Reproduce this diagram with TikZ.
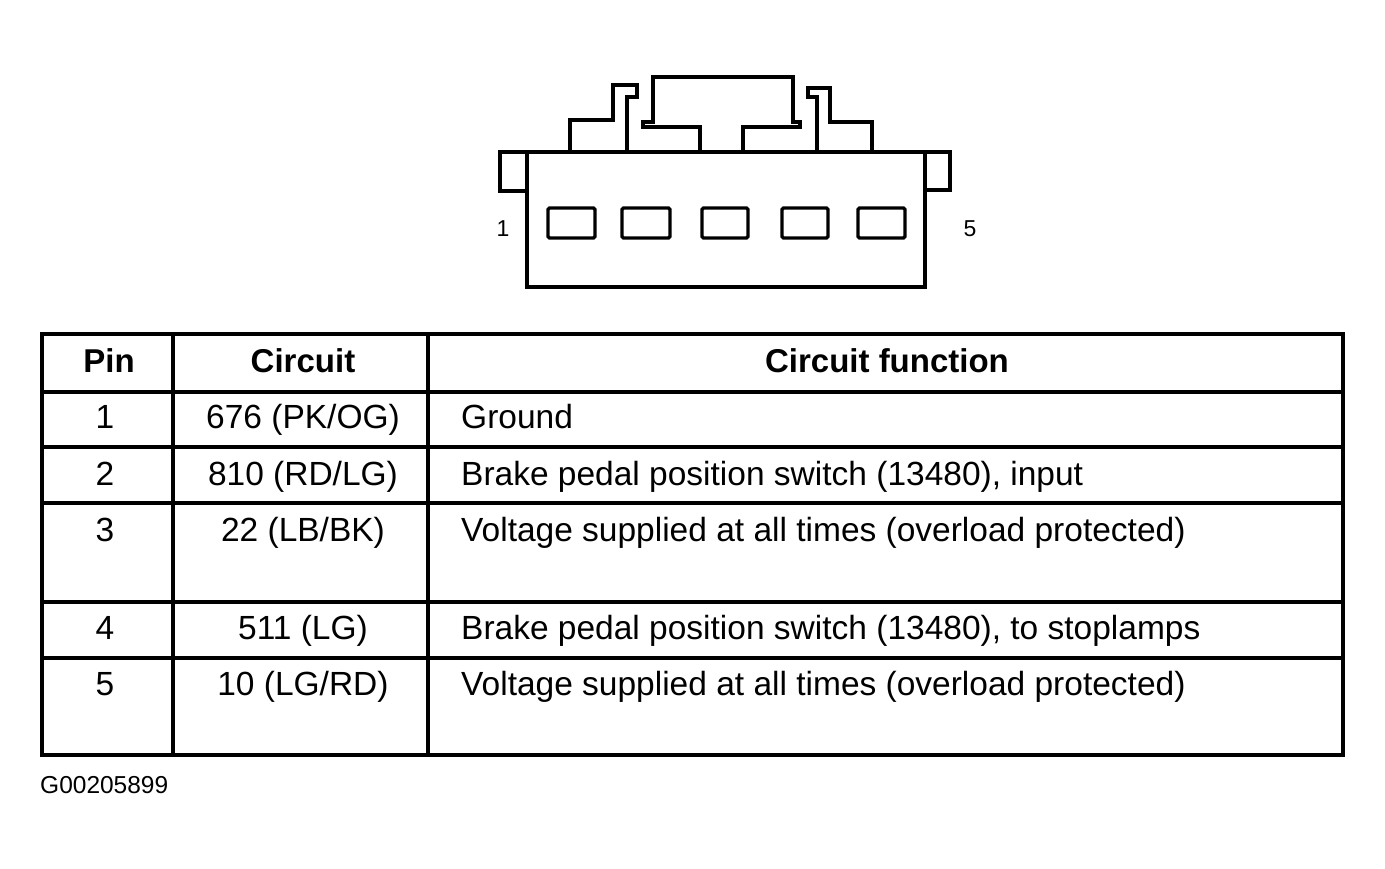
\documentclass[tikz,border=0pt]{standalone}
\usepackage{fontspec}
\setmainfont{Liberation Sans}
\begin{document}
\begin{tikzpicture}[x=1pt,y=-1pt,
  conn/.style={line width=3.3pt,line join=miter},
  tbl/.style={line width=3.8pt},
  celltxt/.style={anchor=base,inner sep=0pt,font=\fontsize{33.5}{40}\selectfont},
  lefttxt/.style={anchor=base west,inner sep=0pt,font=\fontsize{33.5}{40}\selectfont},
  headtxt/.style={anchor=base,inner sep=0pt,font=\fontsize{33}{40}\selectfont\bfseries},
  pinlbl/.style={anchor=center,inner sep=0pt,font=\fontsize{23}{26}\selectfont},
  pinbox/.style={line width=3.3pt,rounded corners=1.5pt}]
\useasboundingbox (0,0) rectangle (1385,868);
% connector body
\draw[conn] (527,152) rectangle (925,287);
\draw[conn] (527,152) -- (500,152) -- (500,191) -- (527,191);
\draw[conn] (925,152) -- (950,152) -- (950,190) -- (925,190);
% left tab and hook
\draw[conn] (570,152) -- (570,120) -- (613,120) -- (613,85) -- (637,85) -- (637,97) -- (627,97) -- (627,152);
% central latch
\draw[conn] (700,152) -- (700,127) -- (643,127) -- (643,122) -- (653,122) -- (653,77) -- (793,77) -- (793,122) -- (800,122) -- (800,127) -- (743,127) -- (743,152);
% right hook and tab
\draw[conn] (817,152) -- (817,97) -- (808,97) -- (808,88) -- (830,88) -- (830,122) -- (872,122) -- (872,152);
% pin cavities
\draw[pinbox] (548,208) rectangle (595,238);
\draw[pinbox] (622,208) rectangle (670,238);
\draw[pinbox] (702,208) rectangle (748,238);
\draw[pinbox] (782,208) rectangle (828,238);
\draw[pinbox] (858,208) rectangle (905,238);
\node[pinlbl] (p1) at (503,229) {1};
\node[pinlbl] (p5) at (970,229) {5};
% table
\draw[tbl] (42,334) rectangle (1343,755);
\draw[tbl] (173,334) -- (173,755);
\draw[tbl] (428,334) -- (428,755);
\foreach \yy in {392,447,503,602,658} \draw[tbl] (42,\yy) -- (1343,\yy);
% header
\node[headtxt] (hpin) at (109,372) {Pin};
\node[headtxt] (hcir) at (303,372) {Circuit};
\node[headtxt] (hfun) at (887,372) {Circuit function};
% rows
\node[celltxt] (r1a) at (105,428) {1};
\node[celltxt] (r1b) at (303,428) {676 (PK/OG)};
\node[lefttxt] (r1c) at (461,428) {Ground};
\node[celltxt] (r2a) at (105,485) {2};
\node[celltxt] (r2b) at (303,485) {810 (RD/LG)};
\node[lefttxt] (r2c) at (461,485) {Brake pedal position switch (13480), input};
\node[celltxt] (r3a) at (105,541) {3};
\node[celltxt] (r3b) at (303,541) {22 (LB/BK)};
\node[lefttxt] (r3c) at (461,541) {Voltage supplied at all times (overload protected)};
\node[celltxt] (r4a) at (105,639) {4};
\node[celltxt] (r4b) at (303,639) {511 (LG)};
\node[lefttxt] (r4c) at (461,639) {Brake pedal position switch (13480), to stoplamps};
\node[celltxt] (r5a) at (105,695) {5};
\node[celltxt] (r5b) at (303,695) {10 (LG/RD)};
\node[lefttxt] (r5c) at (461,695) {Voltage supplied at all times (overload protected)};
\node[anchor=base west,inner sep=0pt,font=\fontsize{24.5}{28}\selectfont] (code) at (40,793) {G00205899};
\end{tikzpicture}
\end{document}
